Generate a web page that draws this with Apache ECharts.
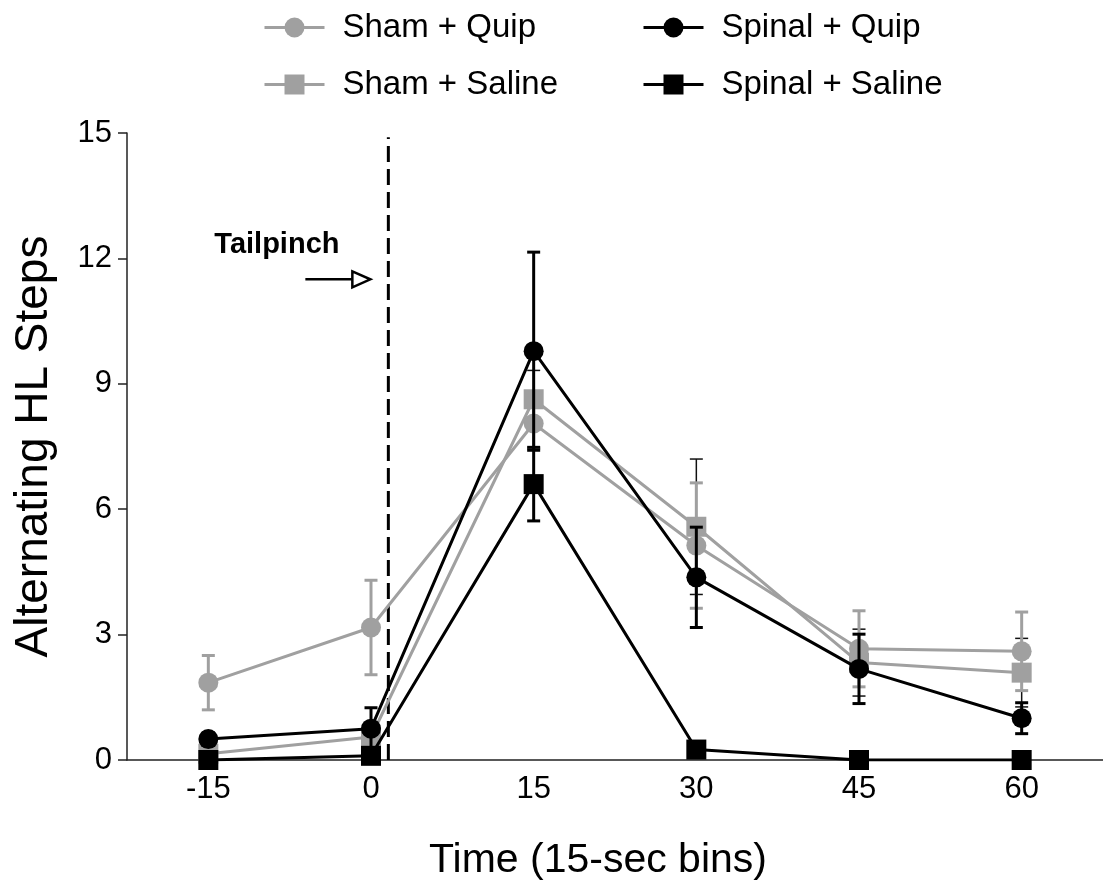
<!DOCTYPE html>
<html>
<head>
<meta charset="utf-8">
<script src="https://cdn.jsdelivr.net/npm/echarts@6/dist/echarts.min.js"></script>
<style>html,body{margin:0;padding:0;background:#fff;}#c{width:1103px;height:888px;}</style>
</head>
<body>
<div id="c"></div>
<script>
// ---- data ----
const timeLabels = ['-15', '0', '15', '30', '45', '60'];
const yTicks = { min: 0, max: 15, interval: 3 };
const tailpinchTime = 1.6;

const shamQuip      = [1.85, 3.17, 8.05, 5.13, 2.66, 2.60];
const shamQuipErr   = [0.65, 1.13, 0.60, 1.50, 0.91, 0.94];
const shamSaline    = [0.15, 0.55, 8.63, 5.58, 2.33, 2.09];
const shamSalineErr = [0.12, 0.12, 0.69, 1.62, 0.80, 0.82];
const spinalQuip    = [0.50, 0.75, 9.78, 4.37, 2.18, 1.00];
const spinalQuipErr = [0.15, 0.50, 2.37, 1.20, 0.83, 0.37];
const spinalSaline    = [0.00, 0.10, 6.60, 0.25, 0.00, 0.00];
const spinalSalineErr = [0.00, 0.10, 0.88, 0.15, 0.00, 0.00];

const GRAY = '#a0a0a0';
const BLACK = '#000000';
const FONT = '"Liberation Sans", Arial, Helvetica, sans-serif';

const chart = echarts.init(document.getElementById('c'), null, { renderer: 'canvas' });

function errSeries(name, vals, errs, color, width, z) {
  return {
    type: 'custom',
    name: name,
    xAxisIndex: 0,
    yAxisIndex: 0,
    z: z,
    silent: true,
    data: vals.map((v, i) => [i, v, errs[i]]),
    encode: { x: 0, y: 1 },
    renderItem: function (params, api) {
      const i = api.value(0), v = api.value(1), e = api.value(2);
      if (!e) return null;
      const top = api.coord([i, v + e]);
      const bot = api.coord([i, v - e]);
      const hw = 6.5;
      const st = { stroke: color, lineWidth: width };
      return {
        type: 'group',
        children: [
          { type: 'line', shape: { x1: top[0], y1: top[1], x2: bot[0], y2: bot[1] }, style: st },
          { type: 'line', shape: { x1: top[0] - hw, y1: top[1], x2: top[0] + hw, y2: top[1] }, style: st },
          { type: 'line', shape: { x1: bot[0] - hw, y1: bot[1], x2: bot[0] + hw, y2: bot[1] }, style: st }
        ]
      };
    }
  };
}

function lineSeries(name, vals, color, symbol, z) {
  return {
    type: 'line',
    name: name,
    xAxisIndex: 0,
    yAxisIndex: 0,
    z: z,
    data: vals,
    symbol: symbol,
    symbolSize: 20,
    showSymbol: true,
    color: color,
    lineStyle: { color: color, width: 3 },
    itemStyle: { color: color },
    emphasis: { disabled: true }
  };
}

function legendAt(name, left, top) {
  return {
    data: [name],
    left: left,
    top: top,
    itemWidth: 60,
    itemHeight: 25,
    selectedMode: false,
    lineStyle: { width: 3 },
    textStyle: { fontSize: 33, fontFamily: FONT, color: '#000', padding: [0, 0, 0, 13] }
  };
}

const option = {
  animation: false,
  backgroundColor: '#fff',
  legend: [
    legendAt('Sham + Quip', 258, 6),
    legendAt('Sham + Saline', 258, 63),
    legendAt('Spinal + Quip', 637, 6),
    legendAt('Spinal + Saline', 637, 63)
  ],
  grid: { left: 127, top: 133, width: 982, bottom: 128, containLabel: false },
  xAxis: [
    {
      type: 'category',
      data: timeLabels,
      boundaryGap: true,
      name: 'Time (15-sec bins)',
      nameLocation: 'middle',
      nameGap: 80,
      nameTextStyle: { fontSize: 41, fontFamily: FONT, color: '#000', padding: [0, 34, 0, 0] },
      axisLine: { lineStyle: { color: '#222', width: 1.5 } },
      axisTick: { length: 9, lineStyle: { color: '#222', width: 1.5 } },
      axisLabel: { fontSize: 31, fontFamily: FONT, color: '#000', margin: 14 },
      splitLine: { show: false }
    },
    {
      type: 'value',
      show: false,
      min: -22.5,
      max: 67.5,
      splitLine: { show: false }
    }
  ],
  yAxis: [
    {
      type: 'value',
      min: yTicks.min,
      max: yTicks.max,
      interval: yTicks.interval,
      name: 'Alternating HL Steps',
      nameLocation: 'middle',
      nameRotate: 90,
      nameGap: 70,
      nameTextStyle: { fontSize: 46, fontFamily: FONT, color: '#000' },
      axisLine: { show: true, onZero: false, lineStyle: { color: '#222', width: 1.5 } },
      axisTick: { show: true, length: 9, lineStyle: { color: '#222', width: 1.5 } },
      axisLabel: { fontSize: 31, fontFamily: FONT, color: '#000', margin: 15 },
      splitLine: { show: false }
    }
  ],
  series: [
    {
      type: 'line',
      name: 'tailpinch-line',
      xAxisIndex: 1,
      yAxisIndex: 0,
      z: 1,
      silent: true,
      symbol: 'none',
      data: [[tailpinchTime, 0], [tailpinchTime, 14.9]],
      lineStyle: { color: '#000', width: 3, type: [16, 7] }
    },
    errSeries('err-sham-saline', shamSaline, shamSalineErr, '#111', 1.5, 2),
    errSeries('err-sham-quip', shamQuip, shamQuipErr, GRAY, 3, 2),
    lineSeries('Sham + Saline', shamSaline, GRAY, 'rect', 3),
    lineSeries('Sham + Quip', shamQuip, GRAY, 'circle', 3),
    errSeries('err-spinal-quip', spinalQuip, spinalQuipErr, BLACK, 3, 4),
    errSeries('err-spinal-saline', spinalSaline, spinalSalineErr, BLACK, 3, 4),
    lineSeries('Spinal + Quip', spinalQuip, BLACK, 'circle', 5),
    lineSeries('Spinal + Saline', spinalSaline, BLACK, 'rect', 6)
  ]
};

chart.setOption(option);

// Tailpinch annotation placed relative to the dashed line
const lineX = chart.convertToPixel({ xAxisIndex: 1 }, tailpinchTime);
const arrowY = chart.convertToPixel({ yAxisIndex: 0 }, 11.5);
const tipX = lineX - 18;
chart.setOption({
  graphic: [
    {
      type: 'text',
      left: tipX - 156,
      top: arrowY - 49,
      style: { text: 'Tailpinch', fontSize: 29, fontWeight: 'bold', fontFamily: FONT, fill: '#000' }
    },
    {
      type: 'line',
      shape: { x1: tipX - 65, y1: arrowY, x2: tipX - 17, y2: arrowY },
      style: { stroke: '#000', lineWidth: 2.5 }
    },
    {
      type: 'polygon',
      shape: { points: [[tipX - 18, arrowY - 8], [tipX, arrowY], [tipX - 18, arrowY + 8]] },
      style: { stroke: '#000', lineWidth: 2.5, fill: '#fff' }
    }
  ]
});
</script>
</body>
</html>
